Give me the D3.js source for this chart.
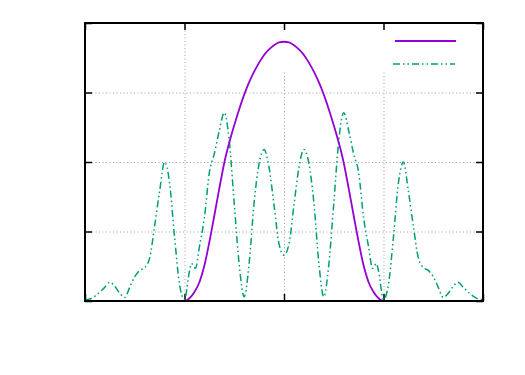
<!DOCTYPE html>
<html><head><meta charset="utf-8">
<script src="https://cdn.jsdelivr.net/npm/d3@7"></script>
<style>html,body{margin:0;padding:0;background:#fff;}svg{display:block;}</style>
</head><body>
<svg id="chart" width="525" height="375"></svg>
<script>
// ---- data ----
const xTicks = [-2, -1, 0, 1, 2];
const yTicks = [0, 1, 2, 3, 4];

const purpleX = [-2.00,-1.00,-0.95,-0.90,-0.85,-0.80,-0.75,-0.70,-0.65,-0.60,-0.55,-0.50,-0.45,-0.40,-0.35,-0.30,-0.25,-0.20,-0.15,-0.10,-0.05,0.00,
  0.05,0.10,0.15,0.20,0.25,0.30,0.35,0.40,0.45,0.50,0.55,0.60,0.65,0.70,0.75,0.80,0.85,0.90,0.95,1.00,2.00];
const purpleY = [0.00,0.00,0.04,0.13,0.27,0.51,0.85,1.23,1.62,1.99,2.28,2.53,2.76,2.97,3.15,3.30,3.43,3.54,3.62,3.68,3.72,3.73,
  3.72,3.68,3.62,3.54,3.43,3.30,3.15,2.97,2.76,2.53,2.28,1.99,1.62,1.23,0.85,0.51,0.27,0.13,0.04,0.00,0.00];

const greenX = [-2.00,-1.95,-1.90,-1.85,-1.80,-1.75,-1.70,-1.65,-1.60,-1.55,-1.50,-1.45,-1.40,-1.35,-1.30,-1.25,-1.20,-1.15,-1.10,-1.05,-1.00,
  -0.95,-0.93,-0.89,-0.85,-0.80,-0.75,-0.70,-0.65,-0.60,-0.55,-0.50,-0.45,-0.40,-0.35,-0.30,-0.25,-0.20,-0.15,-0.10,-0.05,0.00,
  0.05,0.10,0.15,0.20,0.25,0.30,0.35,0.40,0.45,0.50,0.55,0.60,0.65,0.70,0.75,0.80,0.85,0.89,0.93,0.95,
  1.00,1.05,1.10,1.15,1.20,1.25,1.30,1.35,1.40,1.45,1.50,1.55,1.60,1.65,1.70,1.75,1.80,1.85,1.90,1.95,2.00];
const greenY = [0.02,0.03,0.07,0.13,0.20,0.27,0.21,0.11,0.05,0.20,0.35,0.44,0.48,0.62,1.08,1.58,2.00,1.70,0.92,0.24,0.02,
  0.43,0.54,0.47,0.78,1.20,1.85,2.12,2.45,2.71,2.30,1.40,0.52,0.06,0.55,1.42,1.98,2.18,1.92,1.38,0.82,0.66,
  0.82,1.38,1.92,2.18,1.98,1.42,0.55,0.06,0.52,1.40,2.30,2.71,2.45,2.12,1.85,1.20,0.78,0.47,0.54,0.43,
  0.02,0.24,0.92,1.70,2.00,1.58,1.08,0.62,0.48,0.44,0.35,0.20,0.05,0.11,0.21,0.27,0.20,0.13,0.07,0.03,0.02];

const purpleColor = "#9400d3";
const greenColor = "#009e73";

// ---- layout ----
const W = 525, H = 375;
const m = {left: 85, right: 42, top: 23, bottom: 74};
const svg = d3.select("#chart");
const x = d3.scaleLinear().domain([-2, 2]).range([m.left, W - m.right]);
const y = d3.scaleLinear().domain([0, 4]).range([H - m.bottom, m.top]);

// grid
const grid = svg.append("g").attr("stroke", "#a0a0a0").attr("stroke-width", 1).attr("stroke-dasharray", "1,2.5");
grid.selectAll(".gx").data(xTicks.slice(1, -1)).join("line")
  .attr("x1", d => x(d) + 0.5).attr("x2", d => x(d) + 0.5)
  .attr("y1", y(0)).attr("y2", y(4));
grid.selectAll(".gy").data(yTicks.slice(1, -1)).join("line")
  .attr("x1", x(-2)).attr("x2", x(2))
  .attr("y1", d => y(d) + 0.5).attr("y2", d => y(d) + 0.5);

// opaque key box (hides the top of the grid)
svg.append("rect").attr("x", x(-0.85)).attr("y", y(4) + 1)
  .attr("width", x(2) - x(-0.85) - 1).attr("height", y(3.3) - y(4) - 1)
  .attr("fill", "#fff");

// axes with inward ticks on all four sides
const tickLen = 7;
const axB = d3.axisBottom(x).tickValues(xTicks).tickSize(-tickLen).tickFormat("");
const axT = d3.axisTop(x).tickValues(xTicks).tickSize(-tickLen).tickFormat("");
const axL = d3.axisLeft(y).tickValues(yTicks).tickSize(-tickLen).tickFormat("");
const axR = d3.axisRight(y).tickValues(yTicks).tickSize(-tickLen).tickFormat("");
[[axB, `translate(0,${y(0)})`], [axT, `translate(0,${y(4)})`], [axL, `translate(${x(-2)},0)`], [axR, `translate(${x(2)},0)`]]
  .forEach(([ax, t]) => {
    const g = svg.append("g").attr("transform", t).call(ax);
    g.select(".domain").remove();
    g.selectAll("line").attr("stroke", "#000").attr("stroke-width", 1.5);
  });

// lines
const line = d3.line().x(d => x(d[0])).y(d => y(d[1])).curve(d3.curveMonotoneX);
svg.append("path").datum(greenX.map((v, i) => [v, greenY[i]]))
  .attr("d", line).attr("fill", "none").attr("stroke", greenColor)
  .attr("stroke-width", 1.5).attr("stroke-dasharray", "7,3,1.5,3,1.5,3");
svg.append("path").datum(purpleX.map((v, i) => [v, purpleY[i]]))
  .attr("d", line).attr("fill", "none").attr("stroke", purpleColor)
  .attr("stroke-width", 1.8);

// legend samples (no titles)
svg.append("line").attr("x1", 395).attr("x2", 456).attr("y1", 41).attr("y2", 41)
  .attr("stroke", purpleColor).attr("stroke-width", 1.8);
svg.append("line").attr("x1", 393).attr("x2", 455).attr("y1", 64).attr("y2", 64)
  .attr("stroke", greenColor).attr("stroke-width", 1.5).attr("stroke-dasharray", "7,3,1.5,3,1.5,3");

// border
svg.append("rect").attr("x", x(-2)).attr("y", y(4)).attr("width", x(2) - x(-2)).attr("height", y(0) - y(4))
  .attr("fill", "none").attr("stroke", "#000").attr("stroke-width", 2);
</script>
</body></html>
